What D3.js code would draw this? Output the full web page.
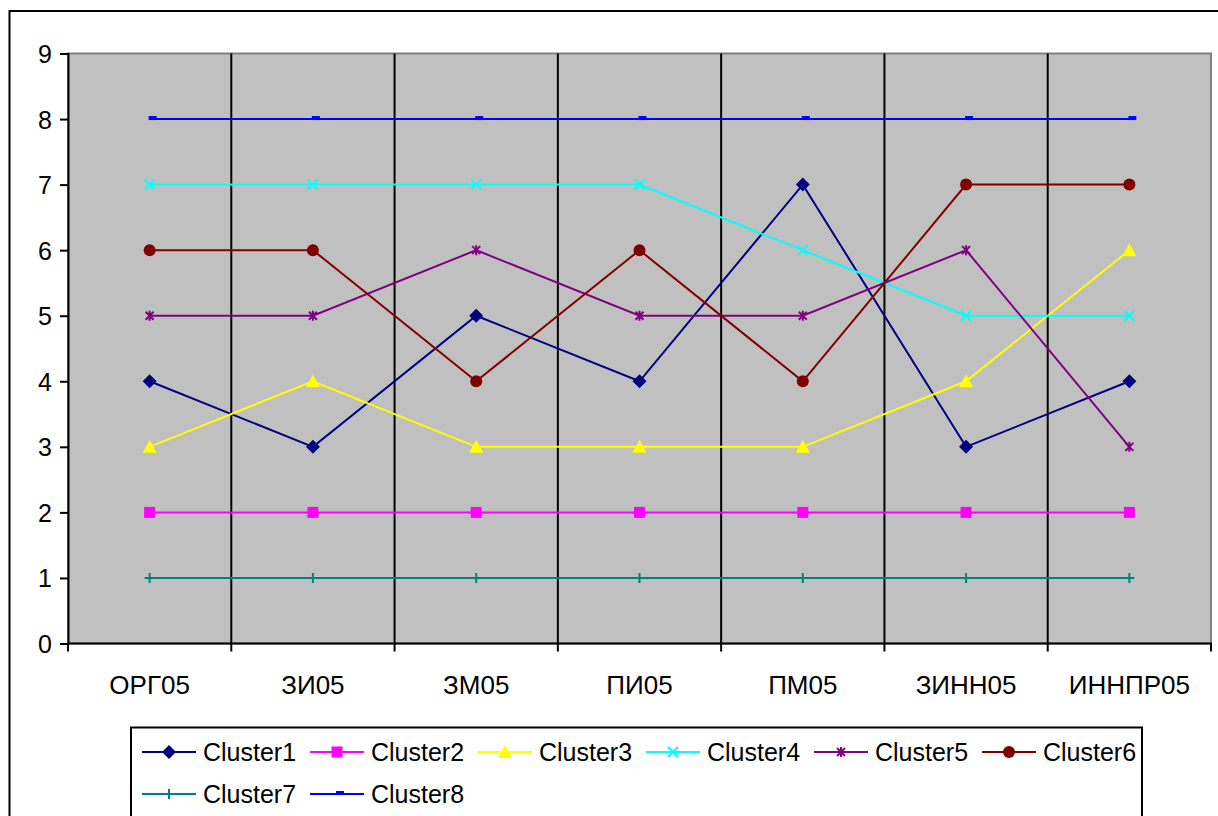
<!DOCTYPE html>
<html><head><meta charset="utf-8">
<script src="https://cdn.jsdelivr.net/npm/d3@7/dist/d3.min.js"></script>
<style>body{margin:0;background:#fff}svg{display:block}text{font-family:"Liberation Sans",Arial,sans-serif;fill:#000}</style>
</head><body><svg id="c" width="1218" height="816"></svg>
<script>
const categories = ["ОРГ05","ЗИ05","ЗМ05","ПИ05","ПМ05","ЗИНН05","ИННПР05"];
const seriesNames = ["Cluster1","Cluster2","Cluster3","Cluster4","Cluster5","Cluster6","Cluster7","Cluster8"];
const cluster1 = [4,3,5,4,7,3,4];
const cluster2 = [2,2,2,2,2,2,2];
const cluster3 = [3,4,3,3,3,4,6];
const cluster4 = [7,7,7,7,6,5,5];
const cluster5 = [5,5,6,5,5,6,3];
const cluster6 = [6,6,4,6,4,7,7];
const cluster7 = [1,1,1,1,1,1,1];
const cluster8 = [8,8,8,8,8,8,8];
const yTicks = [0,1,2,3,4,5,6,7,8,9];

const colors = ["#000080","#FF00FF","#FFFF00","#00FFFF","#800080","#800000","#008080","#0000FF"];
const markers = ["diamond","square","triangle","x","star","circle","plus","dash"];
const values = [cluster1,cluster2,cluster3,cluster4,cluster5,cluster6,cluster7,cluster8];

const svg = d3.select("#c");
const L=68, R=1211, T=53.5, B=643.5;
const x = d3.scaleBand().domain(categories).range([L,R]);
const y = d3.scaleLinear().domain([0,9]).range([B,T]);

// outer border
svg.append("rect").attr("x",9.5).attr("y",11).attr("width",1230).attr("height",830)
  .attr("fill","#fff").attr("stroke","#000").attr("stroke-width",2);

// plot area
svg.append("rect").attr("x",L).attr("y",T).attr("width",R-L).attr("height",B-T)
  .attr("fill","#C0C0C0").attr("stroke","#808080").attr("stroke-width",2);

// vertical gridlines at category boundaries
const bounds = categories.slice(1).map(c=>x(c));
svg.append("g").selectAll("line").data(bounds).join("line")
  .attr("x1",d=>d).attr("x2",d=>d).attr("y1",T).attr("y2",B)
  .attr("stroke","#000").attr("stroke-width",2);

// axes
const yAxis = d3.axisLeft(y).tickValues(yTicks).tickSize(8).tickPadding(8).tickFormat(d3.format("d"));
const gy = svg.append("g").attr("transform",`translate(${L},0)`).call(yAxis);
gy.select(".domain").attr("stroke","#000").attr("stroke-width",2);
gy.selectAll(".tick line").attr("stroke","#000").attr("stroke-width",2);
gy.selectAll(".tick text").attr("font-size",25).attr("dy","0.36em").attr("x",-16);

const gx = svg.append("g").attr("transform",`translate(0,${B})`);
gx.append("line").attr("x1",L).attr("x2",R+1).attr("y1",0).attr("y2",0).attr("stroke","#000").attr("stroke-width",2);
gx.selectAll("line.t").data([L,...bounds,R]).join("line").attr("class","t")
  .attr("x1",d=>d).attr("x2",d=>d).attr("y1",0).attr("y2",8).attr("stroke","#000").attr("stroke-width",2);
gx.selectAll("text").data(categories).join("text")
  .attr("x",d=>x(d)+x.bandwidth()/2).attr("y",50).attr("text-anchor","middle").attr("font-size",26).text(d=>d);

function drawMarker(g, type, cx, cy, color){
  switch(type){
    case "diamond": g.append("path").attr("d",`M${cx},${cy-7}L${cx+7},${cy}L${cx},${cy+7}L${cx-7},${cy}Z`).attr("fill",color); break;
    case "square": g.append("rect").attr("x",cx-5.5).attr("y",cy-5.5).attr("width",11).attr("height",11).attr("fill",color); break;
    case "triangle": g.append("path").attr("d",`M${cx},${cy-7}L${cx+7},${cy+6}L${cx-7},${cy+6}Z`).attr("fill",color); break;
    case "x": g.append("path").attr("d",`M${cx-5},${cy-5}L${cx+5},${cy+5}M${cx-5},${cy+5}L${cx+5},${cy-5}`).attr("stroke",color).attr("stroke-width",2); break;
    case "star": g.append("path").attr("d",`M${cx-4},${cy-4}L${cx+4},${cy+4}M${cx-4},${cy+4}L${cx+4},${cy-4}M${cx},${cy-5}L${cx},${cy+5}`).attr("stroke",color).attr("stroke-width",2); break;
    case "circle": g.append("circle").attr("cx",cx).attr("cy",cy).attr("r",6).attr("fill",color); break;
    case "plus": g.append("path").attr("d",`M${cx-5},${cy}L${cx+5},${cy}M${cx},${cy-5}L${cx},${cy+5}`).attr("stroke",color).attr("stroke-width",2); break;
    case "dash": g.append("rect").attr("x",cx-1).attr("y",cy-3).attr("width",8).attr("height",4).attr("fill",color); break;
  }
}

const line = d3.line().x((d,i)=>x(categories[i])+x.bandwidth()/2).y(d=>y(d));
values.forEach((vals,s)=>{
  const g = svg.append("g");
  g.append("path").attr("d",line(vals)).attr("fill","none").attr("stroke",colors[s]).attr("stroke-width",2);
  vals.forEach((v,i)=>drawMarker(g, markers[s], x(categories[i])+x.bandwidth()/2, y(v), colors[s]));
});

// legend
const lg = svg.append("g");
lg.append("rect").attr("x",131).attr("y",727.5).attr("width",1011).attr("height",100)
  .attr("fill","#fff").attr("stroke","#000").attr("stroke-width",2);
seriesNames.forEach((n,i)=>{
  const col = i%6, row = Math.floor(i/6);
  const lx = 142 + col*168, ly = 752 + row*42;
  lg.append("line").attr("x1",lx).attr("x2",lx+54).attr("y1",ly).attr("y2",ly).attr("stroke",colors[i]).attr("stroke-width",2);
  drawMarker(lg, markers[i], lx+27, ly, colors[i]);
  lg.append("text").attr("x",lx+61).attr("y",ly).attr("dy","0.36em").attr("font-size",25).text(n);
});
</script></body></html>
